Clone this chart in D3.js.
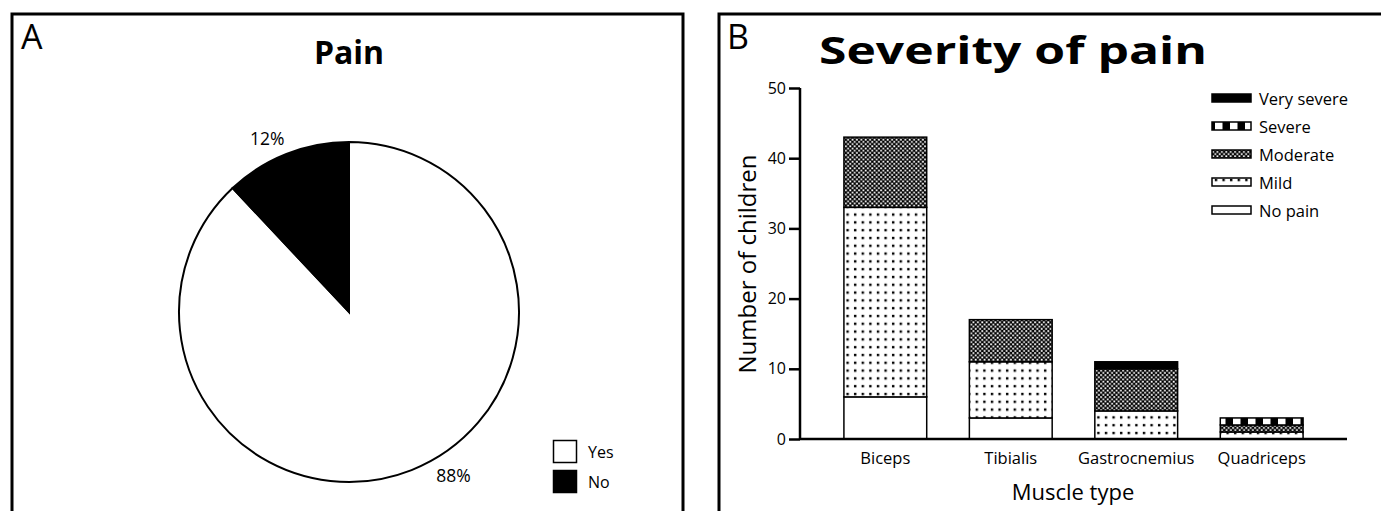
<!DOCTYPE html>
<html>
<head>
<meta charset="utf-8">
<script src="https://cdn.jsdelivr.net/npm/d3@7"></script>
<style>
  html, body { margin: 0; padding: 0; background: #fff; }
  svg { display: block; font-family: "Open Sans", "Noto Sans", sans-serif; }
</style>
</head>
<body>
<svg id="chart" width="1381" height="511"></svg>
<script>
// ---- Data ----
const pieLabels = ["Yes", "No"];
const pieValues = [88, 12];
const pieText = ["88%", "12%"];

const muscles = ["Biceps", "Tibialis", "Gastrocnemius", "Quadriceps"];
const severities = ["No pain", "Mild", "Moderate", "Severe", "Very severe"];
const noPain     = [6, 3, 0, 0];
const mild       = [27, 8, 4, 1];
const moderate   = [10, 6, 6, 1];
const severe     = [0, 0, 0, 1];
const verySevere = [0, 0, 1, 0];
const yTicks = [0, 10, 20, 30, 40, 50];

// ---- Setup ----
const svg = d3.select("#chart");
const defs = svg.append("defs");

// patterns
const pMild = defs.append("pattern").attr("id", "pMild").attr("patternUnits", "userSpaceOnUse")
  .attr("width", 7.6).attr("height", 7.8).attr("x", 0).attr("y", 0);
pMild.append("rect").attr("width", 7.6).attr("height", 7.8).attr("fill", "#fff");
pMild.append("rect").attr("x", 2.8).attr("y", 2.8).attr("width", 2.4).attr("height", 2.4).attr("fill", "#000");

const pMod = defs.append("pattern").attr("id", "pModerate").attr("patternUnits", "userSpaceOnUse")
  .attr("width", 4.4).attr("height", 4.4);
pMod.append("rect").attr("width", 4.4).attr("height", 4.4).attr("fill", "#000");
pMod.append("rect").attr("x", 0.2).attr("y", 0.2).attr("width", 1.8).attr("height", 1.8).attr("fill", "#fff");
pMod.append("rect").attr("x", 2.4).attr("y", 2.4).attr("width", 1.8).attr("height", 1.8).attr("fill", "#fff");

const pSev = defs.append("pattern").attr("id", "pSevere").attr("patternUnits", "userSpaceOnUse")
  .attr("width", 15).attr("height", 200).attr("x", 3);
pSev.append("rect").attr("width", 15).attr("height", 200).attr("fill", "#fff");
pSev.append("rect").attr("x", 7.5).attr("width", 7.5).attr("height", 200).attr("fill", "#000");

const fills = {
  "No pain": "#fff",
  "Mild": "url(#pMild)",
  "Moderate": "url(#pModerate)",
  "Severe": "url(#pSevere)",
  "Very severe": "#000"
};

// ---- Panel frames ----
svg.append("path").attr("d", d3.line()([[12, 520], [12, 14], [683, 14], [683, 520]]))
  .attr("fill", "none").attr("stroke", "#000").attr("stroke-width", 3);
svg.append("path").attr("d", d3.line()([[719, 520], [719, 14], [1390, 14]]))
  .attr("fill", "none").attr("stroke", "#000").attr("stroke-width", 3);

svg.append("text").attr("x", 21).attr("y", 49).attr("font-size", 34).text("A");
svg.append("text").attr("x", 727).attr("y", 49).attr("font-size", 34).text("B");

// ---- Panel A: pie ----
svg.append("text").attr("x", 349).attr("y", 64).attr("text-anchor", "middle")
  .attr("font-size", 32).attr("font-weight", "bold").text("Pain");

const cx = 349, cy = 312, R = 170;
const pie = d3.pie().sort(null).value(d => d);
const arcs = pie(pieValues);
const arc = d3.arc().innerRadius(0).outerRadius(R);
const gp = svg.append("g").attr("transform", `translate(${cx},${cy})`);
gp.selectAll("path.slice").data(arcs).enter().append("path")
  .attr("class", "slice")
  .attr("d", arc)
  .attr("fill", (d, i) => i === 0 ? "#fff" : "#000")
  .attr("stroke", "#000").attr("stroke-width", 2);

const labelShift = [-11, -3.6]; // degrees
const labelR = [194, 192];
gp.selectAll("text.plabel").data(arcs).enter().append("text")
  .attr("class", "plabel")
  .attr("x", (d, i) => labelR[i] * Math.sin((d.startAngle + d.endAngle) / 2 + labelShift[i] * Math.PI / 180))
  .attr("y", (d, i) => -labelR[i] * Math.cos((d.startAngle + d.endAngle) / 2 + labelShift[i] * Math.PI / 180))
  .attr("text-anchor", "middle").attr("dominant-baseline", "central")
  .attr("font-size", 17.5).text((d, i) => pieText[i]);

// pie legend
const pl = svg.append("g").attr("transform", "translate(553,440)");
pieLabels.forEach((lab, i) => {
  pl.append("rect").attr("x", 0.5).attr("y", i * 30 + 0.5).attr("width", 23).attr("height", 22)
    .attr("fill", i === 0 ? "#fff" : "#000").attr("stroke", "#000").attr("stroke-width", 1.5);
  pl.append("text").attr("x", 35).attr("y", i * 30 + 12).attr("dominant-baseline", "central")
    .attr("font-size", 16).text(lab);
});

// ---- Panel B: stacked bars ----
svg.append("text").attr("x", 1013).attr("y", 64).attr("text-anchor", "middle")
  .attr("font-size", 38).attr("font-weight", "bold")
  .attr("textLength", 388).attr("lengthAdjust", "spacingAndGlyphs")
  .text("Severity of pain");

const x = d3.scaleBand().domain(muscles).range([800, 1347]).paddingInner(0.34).paddingOuter(0.35);
const y = d3.scaleLinear().domain([0, 50]).range([439, 88]);

const seriesArrays = [noPain, mild, moderate, severe, verySevere];
const rows = muscles.map((m, i) => {
  const o = { muscle: m };
  severities.forEach((s, k) => o[s] = seriesArrays[k][i]);
  return o;
});
const stack = d3.stack().keys(severities)(rows);

const gb = svg.append("g");
stack.forEach(layer => {
  gb.selectAll(null).data(layer.filter(d => d[1] > d[0])).enter().append("rect")
    .attr("x", d => x(d.data.muscle))
    .attr("y", d => y(d[1]))
    .attr("width", x.bandwidth())
    .attr("height", d => y(d[0]) - y(d[1]))
    .attr("fill", fills[layer.key])
    .attr("stroke", "#000").attr("stroke-width", 1.5);
});

// axes
const yAxis = d3.axisLeft(y).tickValues(yTicks).tickSize(11).tickPadding(3);
const gy = svg.append("g").attr("transform", "translate(800,0)").call(yAxis);
gy.select(".domain").attr("stroke-width", 2.5).attr("d", `M0,${y(50)}V${y(0)}`);
gy.selectAll(".tick line").attr("stroke-width", 2.5);
gy.selectAll(".tick text").attr("font-size", 16).attr("font-family", "Open Sans").attr("fill", "#000");

const xAxis = d3.axisBottom(x).tickSize(0).tickPadding(13);
const gx = svg.append("g").attr("transform", `translate(0,${y(0)})`).call(xAxis);
gx.select(".domain").attr("stroke-width", 2.5).attr("d", `M800,0H1347`);
gx.selectAll(".tick text").attr("font-size", 16.5).attr("font-family", "Open Sans").attr("fill", "#000");

svg.append("text").attr("transform", "translate(756,264) rotate(-90)")
  .attr("text-anchor", "middle").attr("font-size", 24).text("Number of children");
svg.append("text").attr("x", 1073).attr("y", 500).attr("text-anchor", "middle")
  .attr("font-size", 22).text("Muscle type");

// bar legend
const lg = svg.append("g").attr("transform", "translate(1212,98)");
severities.slice().reverse().forEach((s, i) => {
  lg.append("rect").attr("x", 0).attr("y", i * 28 - 4).attr("width", 39).attr("height", 8)
    .attr("fill", fills[s]).attr("stroke", "#000").attr("stroke-width", 1.5);
  lg.append("text").attr("x", 47).attr("y", i * 28).attr("dominant-baseline", "central")
    .attr("font-size", 16.5).text(s);
});
</script>
</body>
</html>
